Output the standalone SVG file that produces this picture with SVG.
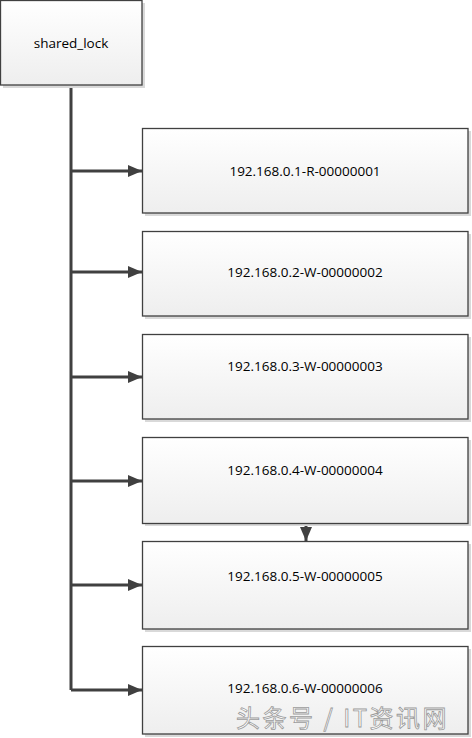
<svg xmlns="http://www.w3.org/2000/svg" width="472" height="738" viewBox="0 0 472 738">
<defs>
<linearGradient id="g" x1="0" y1="0" x2="0" y2="1">
<stop offset="0" stop-color="#ffffff"/>
<stop offset="1" stop-color="#eeeeee"/>
</linearGradient>
<marker id="ah" markerWidth="14" markerHeight="12" refX="14" refY="6" orient="auto" markerUnits="userSpaceOnUse">
<path d="M0,0 L14,6 L0,12 Z" fill="#404040"/>
</marker>
<style>
.box{fill:url(#g);stroke:#404040;stroke-width:1.3}
.sh{fill:#d9d9d9}
.t{font-family:"Open Sans","Liberation Sans",sans-serif;font-size:13.5px;fill:#000;text-anchor:middle;dominant-baseline:central}
.c{stroke:#404040;stroke-width:3;fill:none}
.wm{font-family:"Noto Sans CJK SC",sans-serif;font-size:24px;letter-spacing:2.5px;fill:#ffffff;stroke:#9a9a9a;stroke-width:0.8}
</style>
</defs>
<rect width="472" height="738" fill="#ffffff"/>
<g id="connectors">
<path class="c" d="M71,85 V690"/>
<path class="c" d="M71,171 H142" marker-end="url(#ah)"/>
<path class="c" d="M71,272 H142" marker-end="url(#ah)"/>
<path class="c" d="M71,377 H142" marker-end="url(#ah)"/>
<path class="c" d="M71,481 H142" marker-end="url(#ah)"/>
<path class="c" d="M71,585 H142" marker-end="url(#ah)"/>
<path class="c" d="M71,690 H142" marker-end="url(#ah)"/>
<path class="c" d="M306,524 V541" marker-end="url(#ah)"/>
</g>
<g id="shared_lock">
<rect class="sh" x="3" y="3" width="142" height="85"/>
<rect class="box" x="0.5" y="0.5" width="141.5" height="84.5"/>
<text class="t" x="71" y="43">shared_lock</text>
</g>
<g id="node1">
<rect class="sh" x="145" y="131" width="326" height="85"/>
<rect class="box" x="142.5" y="128.5" width="325.5" height="84.5"/>
<text class="t" x="305" y="171">192.168.0.1-R-00000001</text>
</g>
<g id="node2">
<rect class="sh" x="145" y="234" width="326" height="85"/>
<rect class="box" x="142.5" y="231.5" width="325.5" height="84.5"/>
<text class="t" x="305" y="272">192.168.0.2-W-00000002</text>
</g>
<g id="node3">
<rect class="sh" x="145" y="337" width="326" height="85"/>
<rect class="box" x="142.5" y="334.5" width="325.5" height="84.5"/>
<text class="t" x="305" y="366">192.168.0.3-W-00000003</text>
</g>
<g id="node4">
<rect class="sh" x="145" y="440" width="326" height="86"/>
<rect class="box" x="142.5" y="437.5" width="325.5" height="86"/>
<text class="t" x="305" y="470">192.168.0.4-W-00000004</text>
</g>
<g id="node5">
<rect class="sh" x="145" y="544" width="326" height="88"/>
<rect class="box" x="142.5" y="541.5" width="325.5" height="87.5"/>
<text class="t" x="305" y="576">192.168.0.5-W-00000005</text>
</g>
<g id="node6">
<rect class="sh" x="145" y="649" width="326" height="88"/>
<rect class="box" x="142.5" y="646.5" width="325.5" height="87.5"/>
<text class="t" x="305" y="688">192.168.0.6-W-00000006</text>
</g>
<text class="wm" x="236" y="727">头条号 / IT资讯网</text>
</svg>
